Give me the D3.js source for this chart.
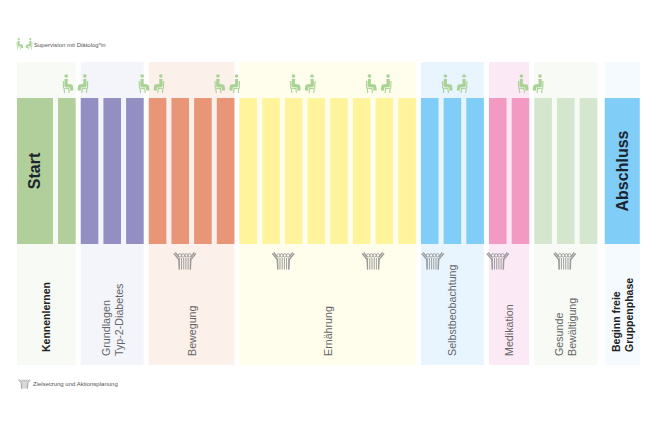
<!DOCTYPE html>
<html><head><meta charset="utf-8">
<script src="https://cdn.jsdelivr.net/npm/d3@7"></script>
<style>html,body{margin:0;padding:0;background:#fff}svg{display:block}text{font-family:"Liberation Sans",Arial,sans-serif}</style>
</head><body><div id="c"></div>
<script>
const phaseNames = ["Start","Grundlagen","Bewegung","Ernährung","Selbstbeobachtung","Medikation","Bewältigung","Abschluss"];
const sessionWeights = [[1.81,1],[1,1,1],[1,1,1,1],[1,1,1,1,1,1,1,1],[1,1,1],[1,1],[1,1,1],[1.767]];
const barColors = ["#b0cf9a","#938fc2","#e99678","#fff49c","#80cdf8","#f29ac2","#d5e6ce","#80cdf8"];
const bandColors = ["#f7faf5","#f4f4fb","#fbf0ea","#fffdec","#e9f5fe","#fce9f6","#f7faf5","#f5fafe"];
const phaseLabels = [["Kennenlernen"],["Grundlagen","Typ-2-Diabetes"],["Bewegung"],["Ernährung"],["Selbstbeobachtung"],["Medikation"],["Gesunde","Bewältigung"],["Beginn freie","Gruppenphase"]];
const labelBold = [true,false,false,false,false,false,false,true];
const supervisionAt = [2.58,5.93,9.27,12.6,15.95,19.3,22.65];
const goalAt = [7.4,11.74,15.7,18.33,21.2,24.15];
const bigLabels = ["Start","Abschluss"];
const legendTexts = ["Supervision mit Diätolog*in","Zielsetzung und Aktionsplanung"];

const W=650,H=433;
const svg=d3.select("#c").append("svg").attr("width",W).attr("height",H);
const unit=22.68, barW=17.6;
const x=d3.scaleLinear().domain([0,1]).range([17,17+unit]);
const yBand=d3.scaleLinear().domain([0,1]).range([62,365]);
const yTop=98,yBot=244;

let cum=0; const phases=[];
phaseNames.forEach((n,i)=>{
  const bars=[];
  sessionWeights[i].forEach(w=>{ if(i===7&&!bars.length) cum+=0.105; bars.push({s:cum,w}); cum+=w; });
  phases.push({n,i,bars,start:bars[0].s,end:bars[bars.length-1].s+bars[bars.length-1].w});
});
const wBar=b=> x(b.s+b.w)-x(b.s)-(unit-barW);

const gp=svg.selectAll("g.phase").data(phases).join("g").attr("class","phase");
gp.append("rect").attr("x",d=>x(d.start)).attr("y",yBand(0))
  .attr("width",d=>x(d.end)-x(d.start)-(unit-barW)).attr("height",yBand(1)-yBand(0))
  .attr("fill",d=>bandColors[d.i]);
gp.selectAll("rect.bar").data(d=>d.bars.map(b=>({...b,i:d.i}))).join("rect").attr("class","bar")
  .attr("x",d=>x(d.s)).attr("y",yTop).attr("width",wBar).attr("height",yBot-yTop)
  .attr("fill",d=>barColors[d.i]);

[[0,0],[7,1]].forEach(([p,l])=>{
  const b=phases[p].bars[0];
  svg.append("text").attr("transform",`translate(${x(b.s)+wBar(b)/2},171) rotate(-90)`)
    .attr("text-anchor","middle").attr("dominant-baseline","central")
    .attr("font-size",16).attr("font-weight",700).attr("fill","#1a2530").text(bigLabels[l]);
});

const labelBase=[352,356,356,356,356,356,356,352];
phases.forEach(p=>{
  const lines=phaseLabels[p.i], cx=(x(p.start)+x(p.end)-(unit-barW))/2;
  lines.forEach((t,k)=>{
    const dx=(k-(lines.length-1)/2)*13.2;
    svg.append("text").attr("transform",`translate(${cx+dx},${labelBase[p.i]}) rotate(-90)`)
      .attr("dominant-baseline","central").attr("font-size",labelBold[p.i]?10.5:10.7)
      .attr("font-weight",labelBold[p.i]?700:400)
      .attr("fill",labelBold[p.i]?"#222":"#666").text(t);
  });
});

function person(g,m){
  const c="#a9d295";
  const h=g.append("g").attr("transform",`scale(${m},1)`);
  h.append("circle").attr("cx",9.3).attr("cy",-8).attr("r",1.8).attr("fill",c);
  h.append("path").attr("d","M9.3,-5L9.6,1.4L4.2,2.2L3.6,6.5").attr("fill","none").attr("stroke",c).attr("stroke-width",3.2).attr("stroke-linejoin","round");
  h.append("path").attr("d","M12.2,-3L12,4L6.8,4.6L6.3,9M11.4,4.2L11,9").attr("fill","none").attr("stroke",c).attr("stroke-width",1.1);
}
function pair(sel,scale){
  sel.attr("transform",d=>d.t);
  sel.each(function(d){const g=d3.select(this).append("g").attr("transform",`scale(${scale})`);person(g,1);person(g,-1);});
}
svg.selectAll("g.sup").data(supervisionAt.map(s=>({t:`translate(${x(s)},84)`}))).join("g").attr("class","sup").call(pair,1);
svg.selectAll("g.sup2").data([{t:"translate(24.5,44)"}]).join("g").attr("class","sup2").call(pair,0.62);

function goal(sel,s){
  sel.attr("transform",d=>d.t);
  sel.each(function(){
    const g=d3.select(this).append("g").attr("transform",`scale(${s})`);
    const c="#9a9a9a";
    [-5.5,-3.3,-1.1,1.1,3.3,5.5].forEach(dx=>g.append("line").attr("x1",dx).attr("x2",dx).attr("y1",-3).attr("y2",8.5).attr("stroke",c).attr("stroke-width",.95));
    [-4.8,-1.6,1.6,4.8].forEach(dx=>g.append("circle").attr("cx",dx).attr("cy",-5.6).attr("r",1.7).attr("fill","none").attr("stroke",c).attr("stroke-width",.9));
    g.append("path").attr("d","M-11,-7.5L-6,-1.5L-5.5,8.5M11,-7.5L6,-1.5L5.5,8.5M-9.5,-8.5L-6,-4M9.5,-8.5L6,-4").attr("fill","none").attr("stroke",c).attr("stroke-width",1.3);
  });
}
svg.selectAll("g.goal").data(goalAt.map(s=>({t:`translate(${x(s)},261)`}))).join("g").attr("class","goal").call(goal,1);
svg.selectAll("g.goal2").data([{t:"translate(24.5,384)"}]).join("g").attr("class","goal2").call(goal,0.55);

svg.selectAll("text.leg").data(legendTexts).join("text").attr("class","leg")
  .attr("x",(d,i)=>i?33:34).attr("y",(d,i)=>i?384:44.5).attr("dominant-baseline","central")
  .attr("font-size",6).attr("fill","#555").text(d=>d);
</script></body></html>
